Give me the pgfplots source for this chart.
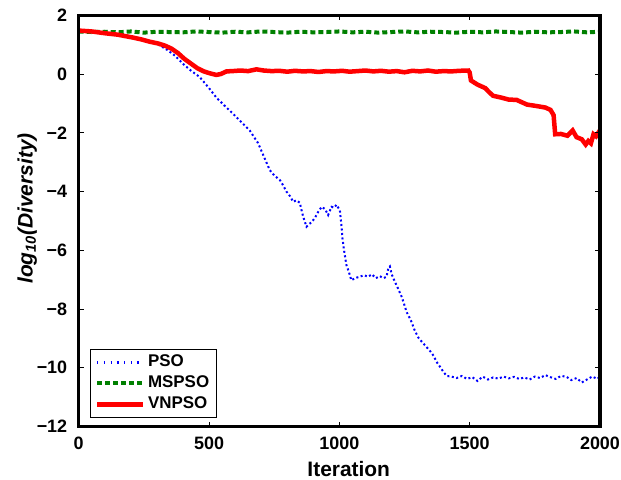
\documentclass[border=0pt]{standalone}
\usepackage{fontspec}
\setmainfont{Liberation Sans}
\usepackage{pgfplots}
\pgfplotsset{compat=1.18}
\usetikzlibrary{calc}

\definecolor{mgreen}{rgb}{0,0.5,0}

\begin{document}
\begin{tikzpicture}
\begin{axis}[
  scale only axis,
  width=521.3bp, height=411.2bp,
  xmin=0, xmax=2000, ymin=-12, ymax=2,
  axis on top,
  axis line style={line width=3.5bp},
  tick align=inside,
  major tick length=5bp,
  tick style={line width=0.8bp, black},
  xtick={0,500,1000,1500,2000},
  xticklabels={0,500,1000,1500,2000},
  ytick={-12,-10,-8,-6,-4,-2,0,2},
  yticklabels={−12,−10,−8,−6,−4,−2,0,2},
  ticklabel style={font=\bfseries\fontsize{18}{20}\selectfont},
  xticklabel style={yshift=-7bp},
  yticklabel style={xshift=-8bp},
  xlabel={Iteration},
  ylabel={\itshape log\textsubscript{10}(Diversity)},
  xlabel style={font=\bfseries\fontsize{21}{23}\selectfont, at={(axis description cs:0.518,0)}, anchor=base, yshift=-50bp, inner sep=0pt},
  ylabel style={font=\bfseries\fontsize{21}{23}\selectfont, at={(axis description cs:-0.0883,0.53)}, anchor=base, rotate=0, inner sep=0pt},
  legend image code/.code={\draw[#1] (0bp,0bp) -- (46bp,0bp);},
  legend cell align=left,
  legend style={at={(axis description cs:0.021,0.021)}, anchor=south west,
    draw=black, line width=0.8bp, fill=white,
    font=\bfseries\fontsize{17}{19}\selectfont,
    inner xsep=5bp, inner ysep=2.5bp, row sep=0bp,
    nodes={inner sep=2.5bp, text height=12.5bp, text depth=3.5bp}},
]
\addplot[blue, line width=2bp, dash pattern=on 2bp off 2.5bp,
  forget plot] coordinates {
(0,1.47) (40,1.44) (80,1.41) (120,1.37) (160,1.33) (200,1.27) (240,1.20) (280,1.10)
(310,0.98) (340,0.82) (370,0.62) (400,0.35) (430,0.12) (464,-0.10) (500,-0.48)
(528,-0.80) (560,-1.08) (592,-1.35) (620,-1.60) (656,-1.92) (688,-2.35) (710,-2.80)
(733,-3.27) (750,-3.45) (772,-3.61) (785,-3.80) (797,-4.00) (810,-4.15) (823,-4.35)
(835,-4.30) (848,-4.38) (861,-4.85) (874,-5.20) (885,-5.10) (893,-5.05) (906,-4.90)
(919,-4.69) (932,-4.52) (945,-4.60) (957,-4.80) (970,-4.52) (980,-4.55) (989,-4.45)
(1002,-4.64) (1008,-5.15) (1012,-5.60) (1018,-6.00) (1027,-6.50) (1037,-6.75)
(1046,-7.02) (1060,-6.95) (1078,-6.90) (1095,-6.85) (1110,-6.90) (1125,-6.82)
(1140,-6.95) (1155,-6.88) (1170,-6.95) (1181,-6.90) (1188,-6.60) (1194,-6.55)
(1200,-6.80) (1212,-7.05) (1225,-7.30) (1240,-7.60) (1258,-8.10) (1275,-8.40)
(1290,-8.75) (1305,-9.00) (1320,-9.15) (1335,-9.30) (1350,-9.45) (1362,-9.60)
(1373,-9.80) (1385,-9.95) (1400,-10.15) (1412,-10.28) (1430,-10.30) (1450,-10.35)
(1470,-10.28) (1490,-10.38) (1510,-10.32) (1530,-10.45) (1550,-10.30) (1570,-10.40)
(1590,-10.33) (1610,-10.37) (1630,-10.30) (1650,-10.36) (1670,-10.31) (1690,-10.38)
(1710,-10.33) (1730,-10.40) (1750,-10.30) (1770,-10.35) (1790,-10.25) (1810,-10.32)
(1830,-10.38) (1850,-10.28) (1870,-10.30) (1890,-10.42) (1910,-10.35) (1930,-10.50)
(1950,-10.40) (1970,-10.30) (1990,-10.38) (2000,-10.30)
};
\addlegendimage{blue, line width=3bp, dash pattern=on 1.2bp off 5.5bp}
\addlegendentry{PSO}
\addplot[mgreen, line width=4bp, dash pattern=on 5bp off 3bp] coordinates {
(0,1.45) (50,1.43) (100,1.44) (150,1.42) (200,1.45) (250,1.41) (300,1.44) (350,1.43)
(400,1.42) (450,1.45) (500,1.43) (550,1.41) (600,1.44) (650,1.42) (700,1.45) (750,1.43)
(800,1.41) (850,1.44) (900,1.42) (950,1.43) (1000,1.45) (1050,1.42) (1100,1.44)
(1150,1.41) (1200,1.43) (1250,1.45) (1300,1.42) (1350,1.44) (1400,1.43) (1450,1.41)
(1500,1.44) (1550,1.42) (1600,1.45) (1650,1.43) (1700,1.41) (1750,1.44) (1800,1.42)
(1850,1.43) (1900,1.45) (1950,1.42) (2000,1.44)
};
\addlegendentry{MSPSO}
\addplot[red, line width=4.5bp] coordinates {
(0,1.48) (50,1.45) (100,1.39) (150,1.34) (209,1.24) (240,1.18) (273,1.10) (305,1.04)
(330,0.97) (355,0.87) (380,0.72) (405,0.52) (430,0.36) (455,0.20) (480,0.09)
(505,0.02) (528,-0.03) (545,0.00) (567,0.09) (590,0.10) (620,0.12) (650,0.10)
(682,0.16) (710,0.12) (740,0.10) (770,0.11) (800,0.08) (830,0.11) (860,0.09)
(890,0.10) (920,0.07) (950,0.10) (980,0.09) (1010,0.11) (1040,0.08) (1070,0.10)
(1100,0.12) (1130,0.09) (1160,0.11) (1190,0.08) (1220,0.10) (1250,0.06) (1280,0.11)
(1310,0.09) (1340,0.12) (1370,0.08) (1400,0.10) (1430,0.09) (1460,0.11) (1495,0.12)
(1500,0.05) (1505,-0.22) (1530,-0.36) (1560,-0.48) (1575,-0.62) (1590,-0.74)
(1620,-0.80) (1650,-0.87) (1680,-0.88) (1700,-0.96) (1720,-1.04) (1750,-1.08)
(1790,-1.14) (1810,-1.22) (1822,-1.40) (1828,-2.05) (1850,-2.04) (1875,-2.10)
(1895,-1.92) (1910,-2.15) (1930,-2.22) (1945,-2.40) (1955,-2.28) (1965,-2.36)
(1975,-2.05) (1985,-2.12) (1995,-1.98) (2000,-2.00)
};
\addlegendentry{VNPSO}
\coordinate (sw) at (rel axis cs:0,0);
\coordinate (ne) at (rel axis cs:1,1);
\end{axis}
\pgfresetboundingbox
\path[use as bounding box] ($(sw)+(-78.7bp,-53.5bp)$) rectangle ($(ne)+(21bp,15.3bp)$);
\end{tikzpicture}
\end{document}
